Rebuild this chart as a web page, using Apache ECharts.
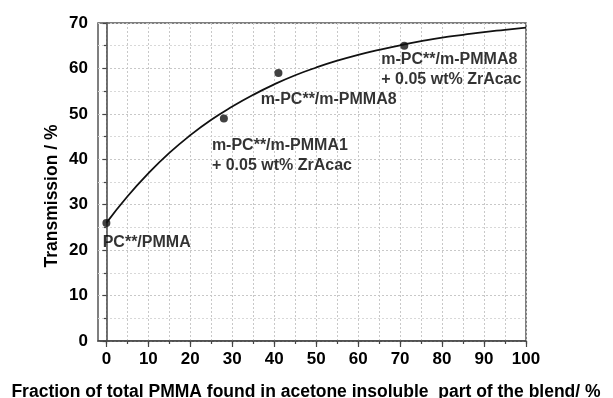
<!DOCTYPE html>
<html>
<head>
<meta charset="utf-8">
<script src="https://cdn.jsdelivr.net/npm/echarts@6/dist/echarts.min.js"></script>
<style>html,body{margin:0;padding:0;background:#fff;}#c{width:613px;height:398px;}</style>
</head>
<body>
<div id="c"></div>
<script>
// Measured data points
var pointX = [0, 28, 41, 71];
var pointY = [26, 49, 59, 65];
var pointLabels = ['PC**/PMMA', 'm-PC**/m-PMMA1\n+ 0.05 wt% ZrAcac', 'm-PC**/m-PMMA8', 'm-PC**/m-PMMA8\n+ 0.05 wt% ZrAcac'];
// Fitted curve
var curveX = [0, 5, 10, 15, 20, 25, 30, 35, 40, 45, 50, 55, 60, 65, 70, 75, 80, 85, 90, 95, 100];
var curveY = [26.0, 31.8, 36.9, 41.4, 45.3, 48.7, 51.6, 54.2, 56.5, 58.5, 60.2, 61.7, 63.0, 64.1, 65.1, 66.0, 66.8, 67.4, 68.0, 68.5, 69.0];
// Tick values
var xMajorTicks = [0, 10, 20, 30, 40, 50, 60, 70, 80, 90, 100];
var xMinorTicks = [0, 5, 10, 15, 20, 25, 30, 35, 40, 45, 50, 55, 60, 65, 70, 75, 80, 85, 90, 95, 100];

// label placement (style, not data)
var labelPos = [[0.3, 23.8], [-8, 41], [-13.8, 31], [-19, 28]];

var FONT = 'Liberation Sans, Arial, sans-serif';
var axisColor = '#444';
var textColor = '#000';

var scatterData = pointX.map(function (x, i) {
  return {
    value: [x, pointY[i]],
    label: {
      show: true,
      formatter: pointLabels[i],
      position: labelPos[i],
      align: 'left',
      verticalAlign: 'middle',
      color: textColor,
      fontFamily: FONT,
      fontWeight: 'bold',
      fontSize: 16,
      lineHeight: 20
    }
  };
});
var curveData = curveX.map(function (x, i) { return [x, curveY[i]]; });

var chart = echarts.init(document.getElementById('c'), null, {renderer: 'canvas'});
chart.setOption({
  animation: false,
  backgroundColor: '#fff',
  grid: {left: 98, right: 87, top: 23, bottom: 57, outerBoundsMode: 'none', containLabel: false,
         show: true, borderColor: '#555', borderWidth: 1.5, backgroundColor: 'transparent'},
  xAxis: [{
    type: 'value', min: -2, max: 100, splitNumber: 10, position: 'bottom',
    name: 'Fraction of total PMMA found in acetone insoluble  part of the blend/ %',
    nameLocation: 'middle', nameGap: 42, nameMoveOverlap: false,
    nameTextStyle: {color: textColor, fontFamily: FONT, fontWeight: 'bold', fontSize: 17.5, padding: [0, 12, 0, 0]},
    axisLine: {show: true, onZero: false, lineStyle: {color: axisColor, width: 1.5}},
    axisTick: {show: true, length: 6, customValues: xMajorTicks, lineStyle: {color: axisColor, width: 1.2}},
    axisLabel: {customValues: xMajorTicks, color: textColor, fontFamily: FONT, fontWeight: 'bold', fontSize: 17, margin: 10},
    splitLine: {show: false}
  }, {
    type: 'value', min: -2, max: 100, splitNumber: 20, position: 'bottom',
    axisLine: {show: false},
    axisTick: {show: true, length: 3, customValues: xMinorTicks, lineStyle: {color: axisColor, width: 1.2}},
    axisLabel: {show: false},
    splitLine: {show: true, lineStyle: {color: '#c8c8c8', width: 1, type: [2, 2]}}
  }],
  yAxis: {
    type: 'value', min: 0, max: 70, interval: 10,
    name: 'Transmission / %', nameLocation: 'middle', nameGap: 37, nameMoveOverlap: false,
    nameTextStyle: {color: textColor, fontFamily: FONT, fontWeight: 'bold', fontSize: 17.5, padding: [0, 28, 0, 0]},
    axisLine: {show: true, lineStyle: {color: axisColor, width: 1.5}},
    axisTick: {show: true, length: 4, lineStyle: {color: axisColor, width: 1.2}},
    minorTick: {show: true, splitNumber: 2, length: 2.5, lineStyle: {color: axisColor, width: 1.2}},
    axisLabel: {color: textColor, fontFamily: FONT, fontWeight: 'bold', fontSize: 17, margin: 10},
    splitLine: {show: true, lineStyle: {color: '#c8c8c8', width: 1, type: [2, 2]}},
    minorSplitLine: {show: true, lineStyle: {color: '#d8d8d8', width: 1, type: [2, 2]}}
  },
  series: [{
    type: 'line', xAxisIndex: 0, data: curveData, smooth: true, showSymbol: false,
    lineStyle: {color: '#111', width: 1.8}, z: 3
  }, {
    type: 'scatter', xAxisIndex: 0, data: scatterData, symbolSize: 8,
    itemStyle: {color: '#111'}, z: 4
  }]
});
</script>
</body>
</html>
